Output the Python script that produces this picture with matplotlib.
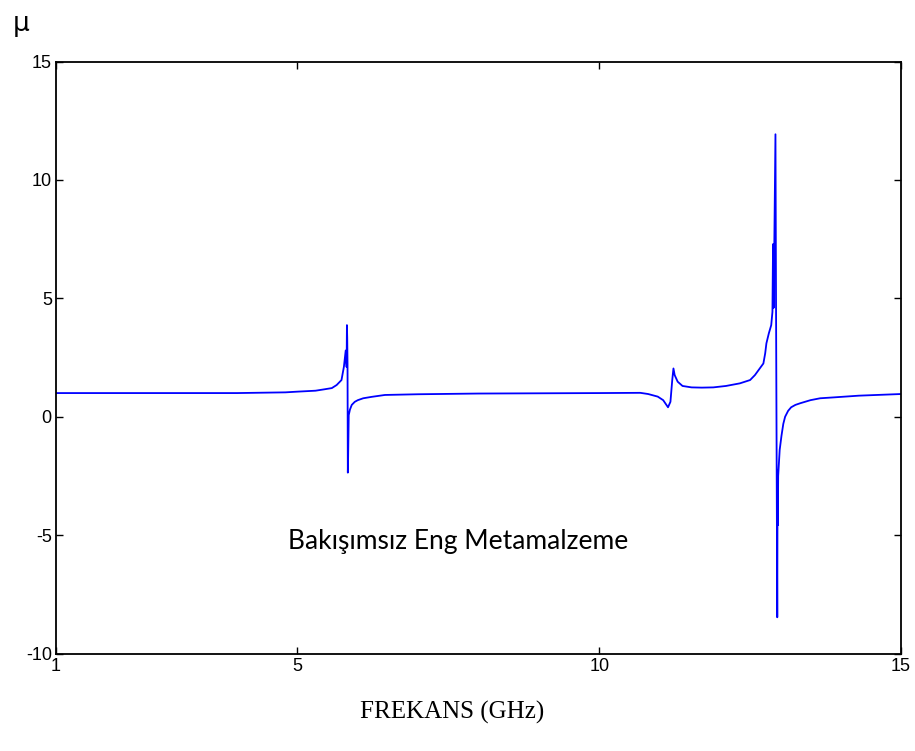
import matplotlib
matplotlib.use('Agg')
import matplotlib.pyplot as plt

# frekans (GHz) ve mu değerleri
freq = [1.0, 2.0, 3.0, 4.0, 4.8, 5.0, 5.3, 5.45, 5.57, 5.65, 5.73, 5.77, 5.80,
        5.815, 5.82, 5.825, 5.83, 5.835, 5.84, 5.85, 5.87, 5.90, 5.95, 6.0, 6.09,
        6.23, 6.45, 7.0, 8.0, 9.0, 10.0, 10.68, 10.81, 10.97, 11.06, 11.14, 11.18,
        11.21, 11.23, 11.25, 11.30, 11.38, 11.53, 11.7, 11.89, 12.1, 12.33, 12.50,
        12.58, 12.66, 12.72, 12.75, 12.77, 12.81, 12.85, 12.87, 12.88, 12.89,
        12.92, 12.93, 12.95, 12.955, 12.96, 12.965, 12.99, 13.02, 13.05, 13.08,
        13.13, 13.18, 13.25, 13.33, 13.5, 13.66, 13.9, 14.3, 14.7, 15.0]
mu = [1.0, 1.0, 1.0, 1.0, 1.03, 1.06, 1.1, 1.16, 1.21, 1.34, 1.55, 2.11, 2.8,
      2.1, 3.87, 3.34, 2.2, -2.36, -1.69, 0.07, 0.3, 0.5, 0.63, 0.7, 0.78,
      0.84, 0.92, 0.95, 0.98, 0.99, 1.0, 1.01, 0.96, 0.85, 0.7, 0.4, 0.63,
      1.55, 2.04, 1.76, 1.48, 1.30, 1.24, 1.23, 1.24, 1.30, 1.41, 1.55,
      1.76, 2.04, 2.25, 2.68, 3.1, 3.52, 3.87, 4.43, 7.29, 4.6,
      11.93, 4.42, -8.47, -2.25, -4.58, -2.5, -1.4, -0.8, -0.3, 0.0,
      0.25, 0.4, 0.5, 0.57, 0.7, 0.78, 0.82, 0.89, 0.93, 0.96]

x_ticks = [1, 5, 10, 15]
y_ticks = [-10, -5, 0, 5, 10, 15]


def main():
    plt.rcParams['axes.unicode_minus'] = False
    fig = plt.figure(figsize=(9.15, 7.51), dpi=100)
    ax = fig.add_axes([0.0612, 0.1298, 0.9235, 0.7882])

    ax.plot(freq, mu, color=(0, 0, 1), linewidth=1.3)

    ax.set_xlim(1, 15)
    ax.set_ylim(-10, 15)
    ax.set_xticks(x_ticks)
    ax.set_yticks(y_ticks)
    ax.tick_params(direction='in', length=5, width=1, top=True, right=True,
                   labelsize=13, pad=3)
    for lab in ax.get_xticklabels() + ax.get_yticklabels():
        lab.set_family('Liberation Sans')
    for sp in ax.spines.values():
        sp.set_linewidth(1.3)

    ax.text(0.476, 0.19, 'Bakışımsız Eng Metamalzeme', transform=ax.transAxes,
            ha='center', va='center', fontsize=19, family='Lato')
    fig.text(0.014, 0.968, 'μ', fontsize=19, family='DejaVu Sans',
             ha='left', va='center')
    fig.text(0.494, 0.051, 'FREKANS (GHz)', fontsize=18,
             family='Liberation Serif', ha='center', va='center')

    fig.savefig('out.png', dpi=100)
    plt.close(fig)


if __name__ == '__main__':
    main()
